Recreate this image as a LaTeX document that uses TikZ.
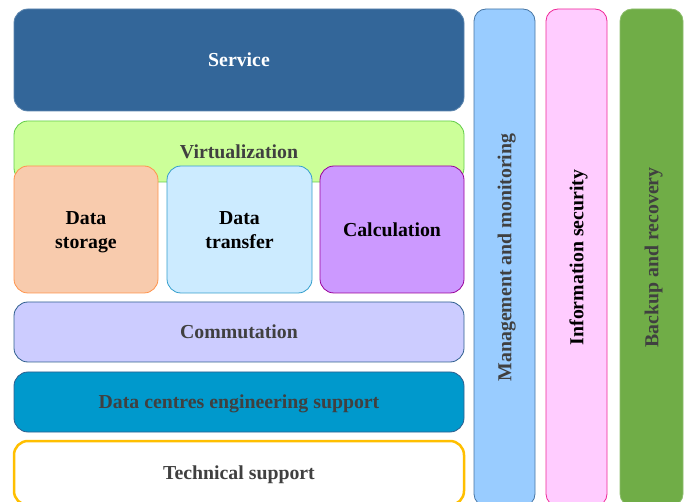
\documentclass[tikz,border=0pt]{standalone}
\usepackage{fontspec}
\setmainfont{Liberation Serif}
\usepackage{xcolor}
\definecolor{servblue}{HTML}{336699}
\definecolor{virtgreen}{HTML}{CCFF99}
\definecolor{storeorange}{HTML}{F8CBAD}
\definecolor{transblue}{HTML}{CCEBFF}
\definecolor{calcviolet}{HTML}{CC99FF}
\definecolor{commlilac}{HTML}{CCCCFF}
\definecolor{dcecyan}{HTML}{0099CC}
\definecolor{manblue}{HTML}{99CCFF}
\definecolor{secpink}{HTML}{FFCCFF}
\definecolor{backgreen}{HTML}{70AD47}
\definecolor{darktext}{HTML}{404040}
\definecolor{frameblue}{HTML}{2F5F8F}

\begin{document}
\begin{tikzpicture}[x=1pt,y=-1pt]
	% Stile
	\tikzset{layer/.style={rectangle, rounded corners=14pt, line width=0.8pt, inner sep=0pt,
			text height=13.5pt, text depth=0pt,
			align=center, font=\bfseries\fontsize{19.8}{24}\selectfont, text=darktext}}
	\tikzset{wide/.style={layer, minimum width=450pt}}
	\tikzset{block/.style={layer, minimum height=127pt, text=black}}
	\tikzset{twoline/.style={text height=37.5pt}}
	\tikzset{column/.style={layer, rotate=90, minimum width=497pt, rounded corners=12pt}}
	
	\useasboundingbox (0,0) rectangle (688,502);
	\clip (0,0) rectangle (688,502);
	
	% Schichten links
	\node[wide, minimum height=102pt, fill=servblue, draw=servblue!80, text=white] (service) at (239,60) {Service};
	\node[wide, minimum height=61pt, fill=virtgreen, draw=virtgreen!60!green!80!black] (virt) at (239,151.5) {Virtualization};
	
	% Ressourcen
	\node[block, twoline, minimum width=144pt, fill=storeorange, draw=orange!80!red!70] (storage) at (86,229.5) {Data\\storage};
	\node[block, twoline, minimum width=145pt, fill=transblue, draw=blue!30!cyan!60!gray] (transfer) at (239.5,229.5) {Data\\transfer};
	\node[block, minimum width=144pt, fill=calcviolet, draw=violet!80!magenta] (calc) at (392,229.5) {Calculation};
	
	\node[wide, minimum height=60pt, fill=commlilac, draw=frameblue] (commut) at (239,332) {Commutation};
	\node[wide, minimum height=60pt, fill=dcecyan, draw=frameblue] (dce) at (239,402) {Data centres engineering support};
	\node[wide, minimum height=64pt, fill=white, draw=orange!50!yellow, line width=2.5pt] (techsup) at (239,473) {Technical support};
	
	% Saeulen rechts
	\node[column, minimum height=61pt, fill=manblue, draw=servblue!90] (manage) at (504.5,257.5) {Management and monitoring};
	\node[column, minimum height=61pt, fill=secpink, draw=magenta!80!pink, text=black] (infosec) at (576.5,257.5) {Information security};
	\node[column, minimum height=63pt, fill=backgreen, draw=backgreen!80!white] (backup) at (651.5,257.5) {Backup and recovery};
\end{tikzpicture}
\end{document}
